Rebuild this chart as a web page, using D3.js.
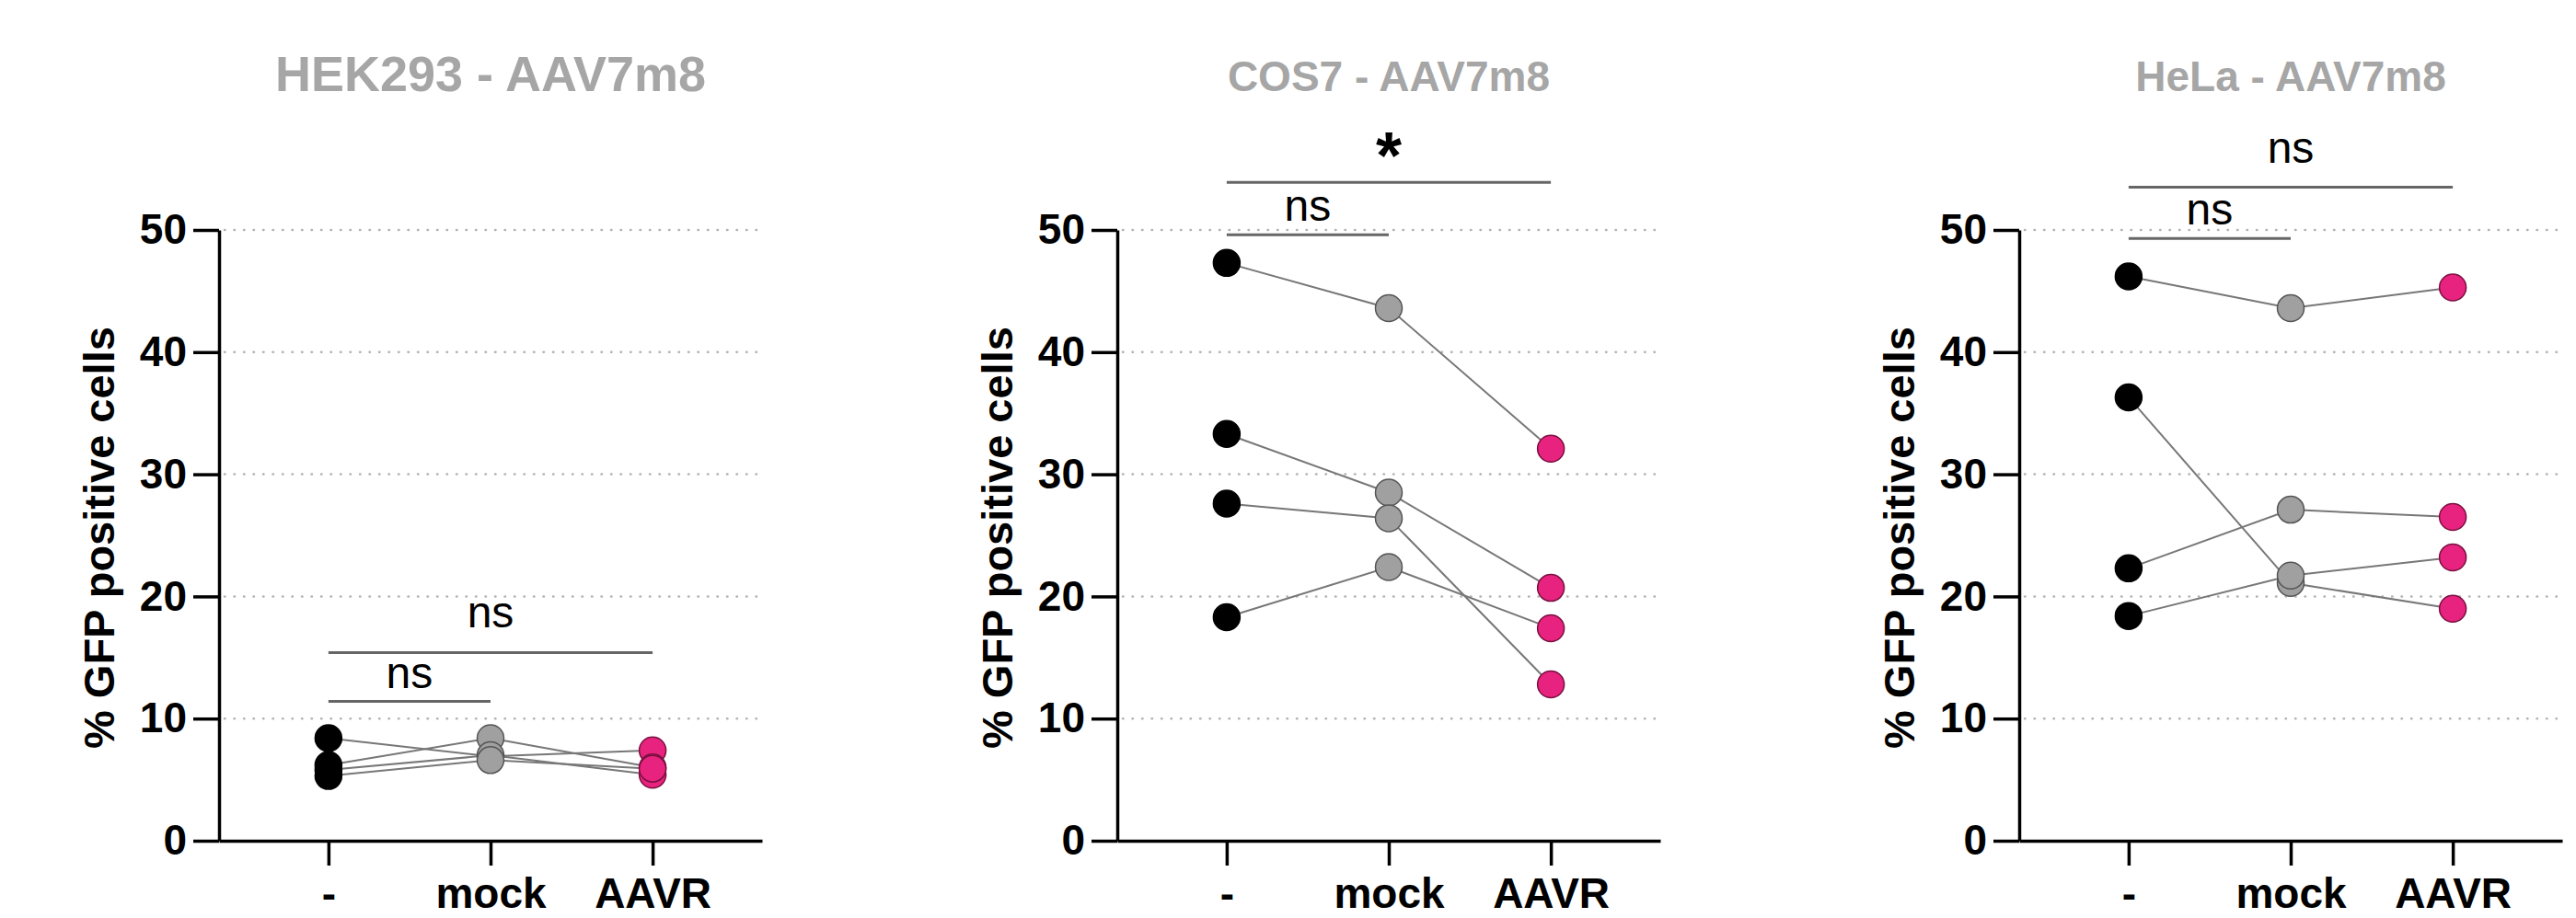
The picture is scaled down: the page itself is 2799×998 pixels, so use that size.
<!DOCTYPE html>
<html>
<head>
<meta charset="utf-8">
<script src="https://cdn.jsdelivr.net/npm/d3@7"></script>
<style>
  body { margin: 0; background: #fff; }
  svg { display: block; }
  text { font-family: "Liberation Sans", Arial, sans-serif; }
</style>
</head>
<body>
<div id="chart"></div>
<script>
// categories on x axis
const categories = ['-', 'mock', 'AAVR'];
const yTicks = [0, 10, 20, 30, 40, 50];

// panel titles
const titles = ['HEK293 - AAV7m8', 'COS7 - AAV7m8', 'HeLa - AAV7m8'];

// paired replicates: [-, mock, AAVR] (% GFP positive cells)
const hek293 = [
    [8.4, 6.9, 7.4],
    [6.2, 8.4, 6.0],
    [5.8, 7.0, 5.4],
    [5.3, 6.6, 5.9]
];
const cos7 = [
    [47.3, 43.6, 32.1],
    [33.3, 28.5, 20.7],
    [27.6, 26.4, 12.8],
    [18.3, 22.4, 17.4]
];
const hela = [
    [46.2, 43.6, 45.3],
    [36.3, 21.1, 19.0],
    [22.3, 27.1, 26.5],
    [18.4, 21.7, 23.2]
];

// significance brackets: from, to, level (data units), label
const sigHek = [
    { from: '-', to: 'mock', level: 11.4, label: 'ns' },
    { from: '-', to: 'AAVR', level: 15.4, label: 'ns' }
];
const sigCos = [
    { from: '-', to: 'mock', level: 49.6, label: 'ns' },
    { from: '-', to: 'AAVR', level: 53.9, label: '*' }
];
const sigHela = [
    { from: '-', to: 'mock', level: 49.3, label: 'ns' },
    { from: '-', to: 'AAVR', level: 53.5, label: 'ns' }
];

const pointColors = ['#000000', '#a0a0a0', '#e8237f'];
const pointStroke = ['#000000', '#555555', '#7a1040'];

const W = 2799, H = 998;
const panelLeft = [238, 1214, 2194];
const plotW = 590, plotTop = 250, plotBottom = 914;
const titleSize = [54, 46, 46];

const svg = d3.select('#chart').append('svg')
    .attr('width', W)
    .attr('height', H);

const y = d3.scaleLinear().domain([0, 50]).range([plotBottom, plotTop]);

const panels = [
    { title: titles[0], data: hek293, sig: sigHek },
    { title: titles[1], data: cos7, sig: sigCos },
    { title: titles[2], data: hela, sig: sigHela }
];

panels.forEach((p, i) => {
    const g = svg.append('g').attr('transform', `translate(${panelLeft[i]},0)`);

    const x = d3.scalePoint()
        .domain(categories)
        .range([0, plotW])
        .padding(0.675);

    // dotted grid
    g.selectAll('.grid')
        .data(yTicks.filter(t => t > 0))
        .enter()
        .append('line')
        .attr('x1', 6)
        .attr('x2', plotW - 4)
        .attr('y1', d => y(d))
        .attr('y2', d => y(d))
        .attr('stroke', '#b3b3b3')
        .attr('stroke-width', 2.5)
        .attr('stroke-linecap', 'round')
        .attr('stroke-dasharray', '0.5,10');

    // y axis
    const yAxis = g.append('g')
        .call(d3.axisLeft(y).tickValues(yTicks).tickSize(28).tickSizeOuter(0).tickPadding(7));
    yAxis.select('.domain').attr('stroke-width', 3.5);
    yAxis.selectAll('.tick line').attr('stroke-width', 3.5);
    yAxis.selectAll('text')
        .attr('font-size', 46)
        .attr('font-weight', 'bold')
        .attr('fill', '#000');

    // x axis
    const xAxis = g.append('g')
        .attr('transform', `translate(0,${plotBottom})`)
        .call(d3.axisBottom(x).tickSize(27).tickSizeOuter(0).tickPadding(13));
    xAxis.select('.domain').attr('stroke-width', 3.5);
    xAxis.selectAll('.tick line').attr('stroke-width', 3.5);
    xAxis.selectAll('text')
        .attr('font-size', 46)
        .attr('font-weight', 'bold')
        .attr('fill', '#000');

    // y axis title
    g.append('text')
        .attr('transform', `translate(-131,814) rotate(-90)`)
        .attr('dy', '0.36em')
        .attr('font-size', 47)
        .attr('font-weight', 'bold')
        .attr('fill', '#000')
        .text('% GFP positive cells');

    // panel title
    g.append('text')
        .attr('x', plotW / 2)
        .attr('y', 99)
        .attr('text-anchor', 'middle')
        .attr('font-size', titleSize[i])
        .attr('font-weight', 'bold')
        .attr('fill', '#a6a6a6')
        .text(p.title);

    // connecting lines
    const line = d3.line()
        .x((d, j) => x(categories[j]))
        .y(d => y(d));
    g.selectAll('.pair')
        .data(p.data)
        .enter()
        .append('path')
        .attr('d', line)
        .attr('fill', 'none')
        .attr('stroke', '#777')
        .attr('stroke-width', 2);

    // points, grouped by condition
    categories.forEach((c, j) => {
        g.selectAll('.pt' + j)
            .data(p.data.map(r => r[j]))
            .enter()
            .append('circle')
            .attr('cx', x(c))
            .attr('cy', d => y(d))
            .attr('r', 14.5)
            .attr('fill', pointColors[j])
            .attr('stroke', pointStroke[j])
            .attr('stroke-width', 1.5);
    });

    // significance brackets
    p.sig.forEach((s, k) => {
        const x1 = x(s.from), x2 = x(s.to), yy = y(s.level);
        g.append('line')
            .attr('x1', x1).attr('x2', x2)
            .attr('y1', yy).attr('y2', yy)
            .attr('stroke', '#666')
            .attr('stroke-width', 3);
        const star = s.label === '*';
        g.append('text')
            .attr('x', (x1 + x2) / 2)
            .attr('y', star ? yy - 4 : yy - (k === 0 ? 15 : 27))
            .attr('text-anchor', 'middle')
            .attr('font-size', star ? 72 : 48)
            .attr('font-weight', star ? 'bold' : 'normal')
            .attr('fill', '#000')
            .text(s.label);
    });
});
</script>
</body>
</html>
